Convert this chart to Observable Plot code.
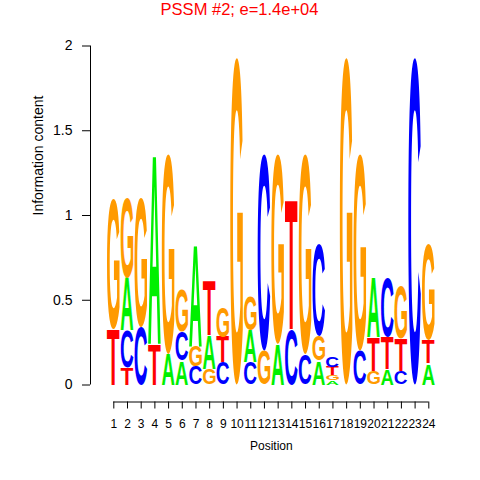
<!DOCTYPE html>
<html><head><meta charset="utf-8">
<script src="https://cdn.jsdelivr.net/npm/d3@7"></script>
<script src="https://cdn.jsdelivr.net/npm/@observablehq/plot@0.6"></script>
<style>body{margin:0;background:#fff} svg{display:block}</style>
</head><body>
<script>
const titleText = "PSSM #2; e=1.4e+04";
const xTitle = "Position";
const yTitle = "Information content";
const positions = [1,2,3,4,5,6,7,8,9,10,11,12,13,14,15,16,17,18,19,20,21,22,23,24];
const xTickLabels = ["1","2","3","4","5","6","7","8","9","10","11","12","13","14","15","16","17","18","19","20","21","22","23","24"];
const yTicks = [0, 0.5, 1, 1.5, 2];
const yTickLabels = ["0", "0.5", "1", "1.5", "2"];
const bases = ["A", "C", "G", "T"];
const baseColors = ["#00F000", "#0000FF", "#FF9A00", "#FF0000"];
// information content (bits) of each base at each position
const heightA = [0, 0.31, 0, 1.12, 0.18, 0.14, 0.60, 0.20, 0, 0, 0.19, 0, 0.24, 0, 0, 0.14, 0.025, 0, 0, 0.35, 0.09, 0, 0, 0.125];
const heightC = [0, 0.22, 0.34, 0, 0, 0.17, 0.11, 0, 0.13, 0, 0.13, 1.16, 0, 0.33, 0.18, 0.545, 0.06, 0, 0.20, 0, 0.35, 0.08, 1.93, 0];
const heightG = [0.77, 0.47, 0.76, 0, 1.18, 0.25, 0.12, 0.09, 0.18, 1.93, 0.20, 0.20, 1.12, 0, 1.18, 0.145, 0.03, 1.93, 1.16, 0.08, 0, 0.31, 0, 0.57];
const heightT = [0.33, 0.10, 0, 0.24, 0, 0, 0, 0.32, 0.15, 0, 0, 0, 0, 0.77, 0, 0, 0.05, 0, 0, 0.20, 0.19, 0.19, 0, 0.135];

const heights = {A: heightA, C: heightC, G: heightG, T: heightT};
const rows = [];
positions.forEach((pos, i) => {
  const col = bases.map(b => ({pos, base: b, h: heights[b][i]})).filter(d => d.h > 0).sort((a, b) => a.h - b.h);
  let acc = 0;
  for (const d of col) { d.y0 = acc; acc += d.h; d.y1 = acc; rows.push(d); }
});

const font = "Liberation Sans";
const letterHalf = 0.46;

const plot = Plot.plot({
  width: 480, height: 480,
  marginLeft: 90, marginRight: 28.4, marginTop: 28.5, marginBottom: 78.5,
  style: {fontFamily: font, background: "#fff", color: "#000"},
  x: {domain: [1, 24], range: [113.3, 428.3]},
  y: {domain: [0, 2], range: [384.5, 45.5]},
  color: {domain: bases, range: baseColors},
  marks: [
    Plot.text(rows, {x: "pos", y: "y0", text: "base", fill: "base", fontSize: 100, fontWeight: "bold", textAnchor: "start"}),
    Plot.axisY({ticks: yTicks, tickFormat: (d, i) => yTickLabels[i], tickSize: 8, tickPadding: 10, fontSize: 14, label: null}),
    Plot.axisX({ticks: positions, tickFormat: (d, i) => xTickLabels[i], tickSize: 7, tickPadding: 10, fontSize: 12, label: null}),
    Plot.ruleX([positions[0]], {y1: yTicks[0], y2: yTicks[yTicks.length - 1], dx: -23.3, stroke: "#000"}),
    Plot.ruleY([yTicks[0]], {x1: positions[0], x2: positions[positions.length - 1], dy: 17, stroke: "#000"}),
    Plot.text([titleText], {frameAnchor: "top", lineAnchor: "top", dx: -31.8, dy: -25.5, fill: "#FF0000", fontSize: 16.5}),
    Plot.text([xTitle], {frameAnchor: "bottom", lineAnchor: "bottom", dy: 47.5, fontSize: 12}),
    Plot.text([yTitle], {frameAnchor: "left", dx: -52, rotate: -90, fontSize: 14})
  ]
});
document.body.append(plot);

// stretch each letter glyph to fill its stacked box, using the plot's scales
const xs = plot.scale("x"), ys = plot.scale("y");
const ctx = document.createElement("canvas").getContext("2d");
ctx.font = `bold 100px "${font}"`;
const ink = {};
for (const b of bases) {
  const m = ctx.measureText(b);
  ink[b] = {x0: -m.actualBoundingBoxLeft, x1: m.actualBoundingBoxRight, top: -m.actualBoundingBoxAscent, bottom: m.actualBoundingBoxDescent};
}
const letterGroup = plot.querySelector('g[aria-label="text"]');
letterGroup.removeAttribute("transform");
letterGroup.querySelectorAll("text").forEach((el, i) => {
  const r = rows[i];
  const X0 = xs.apply(r.pos - letterHalf), X1 = xs.apply(r.pos + letterHalf);
  const Yb = ys.apply(r.y0), Yt = ys.apply(r.y1);
  const k = ink[r.base];
  const sx = (X1 - X0) / (k.x1 - k.x0), sy = (Yb - Yt) / (k.bottom - k.top);
  el.removeAttribute("x"); el.removeAttribute("y"); el.removeAttribute("dy");
  el.setAttribute("font-family", font);
  el.setAttribute("text-anchor", "start");
  el.setAttribute("transform", `translate(${X0},${Yb}) scale(${sx},${sy}) translate(${-k.x0},${-k.bottom})`);
});
</script>
</body></html>
